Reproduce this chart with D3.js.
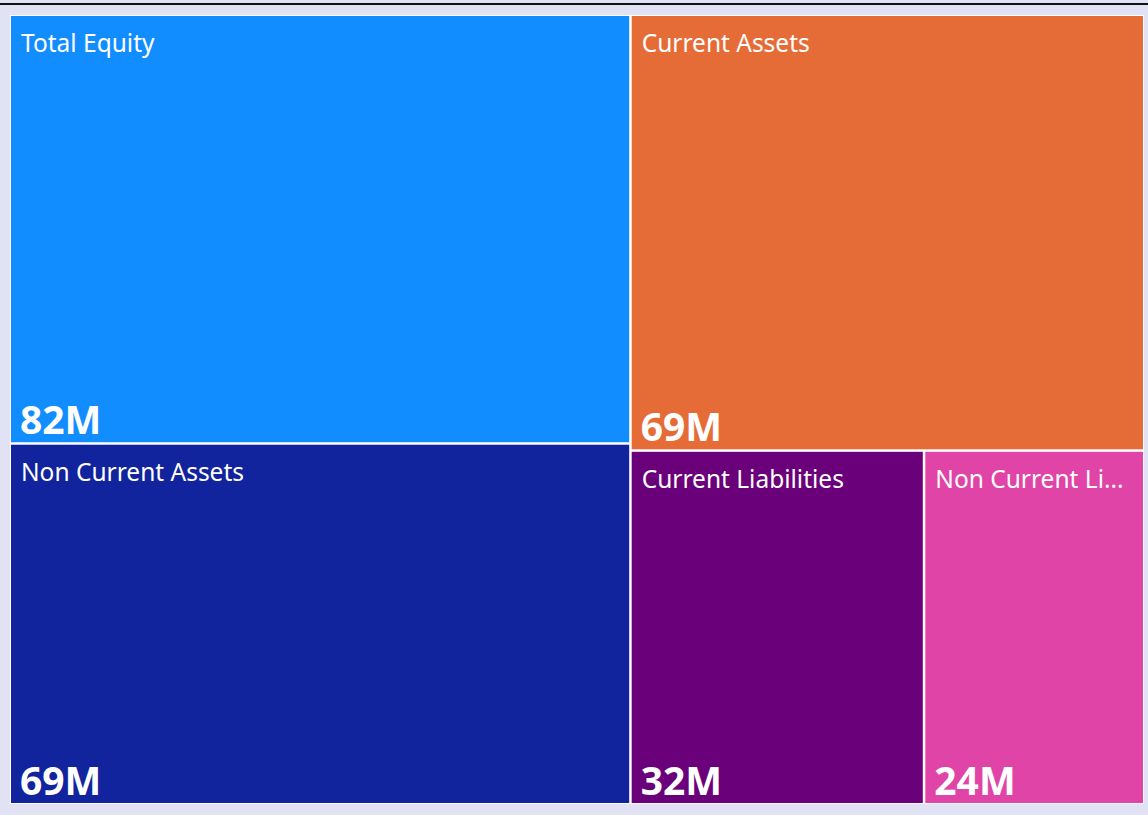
<!DOCTYPE html>
<html>
<head>
<meta charset="utf-8">
<script src="https://cdn.jsdelivr.net/npm/d3@7"></script>
<style>
  body { margin: 0; background: #e1e3f4; }
  svg { display: block; }
</style>
</head>
<body>
<script>
const width = 1148;
const height = 815;

// chart data
const categories = ["Total Equity", "Non Current Assets", "Current Assets", "Current Liabilities", "Non Current Liabilities"];
const values = [82, 69, 69, 32, 24];
const valueLabels = ["82M", "69M", "69M", "32M", "24M"];
const colors = ["#118dff", "#12239e", "#e66c37", "#6b007b", "#e044a7"];

let svg = d3.select("body").append("svg").attr("width", width).attr("height", height);

// top black rule
svg.append("rect").attr("x", 0).attr("y", 3).attr("width", width).attr("height", 2).attr("fill", "#111");

// white frame behind tiles
const frame = {x: 10, y: 15, w: 1134, h: 789};
svg.append("rect")
    .attr("x", frame.x).attr("y", frame.y)
    .attr("width", frame.w).attr("height", frame.h)
    .attr("fill", "#ffffff");

let rows = categories.map((c, i) => ({name: c, value: values[i], label: valueLabels[i], color: colors[i]}));
let root = d3.hierarchy({children: rows}).sum(d => d.value || 0);

d3.treemap()
    .tile(d3.treemapSquarify.ratio(1))
    .size([frame.w, frame.h])
    .paddingOuter(1)
    .paddingInner(2.5)(root);

let group = svg.append("g").attr("transform", `translate(${frame.x},${frame.y})`);

let cells = group.selectAll("g.cell")
    .data(root.leaves())
    .enter()
    .append("g")
    .attr("class", "cell")
    .attr("transform", d => `translate(${d.x0},${d.y0})`);

cells.append("rect")
    .attr("width", d => d.x1 - d.x0)
    .attr("height", d => d.y1 - d.y0)
    .attr("fill", d => d.data.color);

// category names, trimmed with an ellipsis when too wide
cells.append("text")
    .attr("x", 10)
    .attr("y", 36)
    .attr("fill", "#ffffff")
    .attr("font-family", "'Noto Sans', 'Open Sans', sans-serif")
    .attr("font-size", 24.5)
    .text(d => d.data.name)
    .each(function(d) {
        const maxW = d.x1 - d.x0 - 28;
        let t = d3.select(this);
        let s = d.data.name;
        if (this.getComputedTextLength() <= maxW) return;
        while (s.length > 1) {
            s = s.slice(0, -1);
            t.text(s.trimEnd() + "...");
            if (this.getComputedTextLength() <= maxW) break;
        }
    });

// values
cells.append("text")
    .attr("x", 9)
    .attr("y", d => d.y1 - d.y0 - 8)
    .attr("fill", "#ffffff")
    .attr("font-family", "'Noto Sans', 'Open Sans', sans-serif")
    .attr("font-weight", "bold")
    .attr("font-size", 39)
    .text(d => d.data.label);
</script>
</body>
</html>
